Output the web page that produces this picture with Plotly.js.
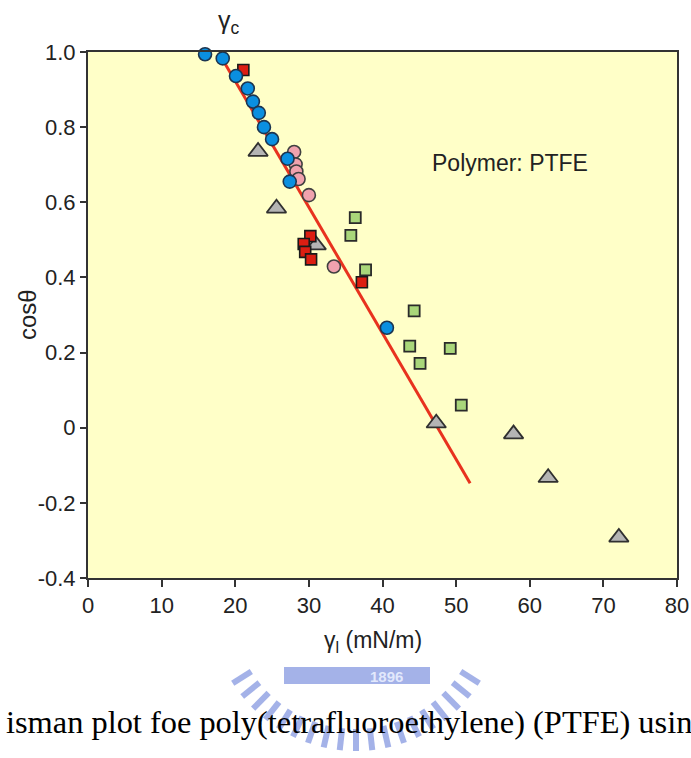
<!DOCTYPE html>
<html>
<head>
<meta charset="utf-8">
<script src="https://cdn.plot.ly/plotly-3.0.1.min.js"></script>
<style>
  html, body { margin: 0; padding: 0; background: #ffffff; }
  #chart { width: 691px; height: 758px; }
</style>
</head>
<body>
<div id="chart"></div>
<script>
// ---- Data (γl in mN/m, cosθ) ----
const blueX  = [15.9, 18.3, 20.1, 21.7, 22.4, 23.2, 23.9, 25.0, 27.1, 27.4, 40.6];
const blueY  = [0.994, 0.983, 0.936, 0.903, 0.868, 0.838, 0.800, 0.768, 0.716, 0.655, 0.266];

const pinkX  = [28.0, 28.2, 28.3, 28.6, 30.0, 33.4];
const pinkY  = [0.734, 0.701, 0.682, 0.662, 0.619, 0.429];

const redX   = [21.1, 30.2, 29.3, 29.5, 30.3, 37.2];
const redY   = [0.952, 0.510, 0.489, 0.468, 0.448, 0.387];

const greenX = [36.3, 35.7, 37.7, 44.3, 43.7, 45.1, 49.2, 50.7];
const greenY = [0.559, 0.512, 0.420, 0.311, 0.217, 0.171, 0.211, 0.060];

const grayX  = [23.1, 25.6, 31.0, 47.3, 57.8, 62.5, 72.1];
const grayY  = [0.735, 0.584, 0.486, 0.012, -0.017, -0.133, -0.292];

const fitX   = [18.2, 51.9];
const fitY   = [0.983, -0.148];

const xTickVals = [0, 10, 20, 30, 40, 50, 60, 70, 80];
const yTickVals = [-0.4, -0.2, 0, 0.2, 0.4, 0.6, 0.8, 1.0];
const yTickText = ['-0.4', '-0.2', '0', '0.2', '0.4', '0.6', '0.8', '1.0'];

// ---- Styling ----
const SANS = 'Arial, "Liberation Sans", sans-serif';
const SERIF = '"Times New Roman", "Liberation Serif", serif';
const TXT = '#222222';

const traces = [
  { x: fitX, y: fitY, mode: 'lines', type: 'scatter',
    line: { color: '#e8321e', width: 3 }, hoverinfo: 'skip', cliponaxis: false },
  { x: grayX, y: grayY, mode: 'markers', type: 'scatter',
    marker: { symbol: 'triangle-up', size: 17, color: '#b4b4b4', line: { color: '#303030', width: 1.8 } } },
  { x: greenX, y: greenY, mode: 'markers', type: 'scatter',
    marker: { symbol: 'square', size: 11, color: '#a9d67a', line: { color: '#2a2a2a', width: 1.8 } } },
  { x: pinkX, y: pinkY, mode: 'markers', type: 'scatter',
    marker: { symbol: 'circle', size: 13, color: '#f0a2ae', line: { color: '#404040', width: 1.6 } } },
  { x: redX, y: redY, mode: 'markers', type: 'scatter',
    marker: { symbol: 'square', size: 11, color: '#dc1e12', line: { color: '#1a1a1a', width: 1.6 } } },
  { x: blueX, y: blueY, mode: 'markers', type: 'scatter', cliponaxis: false,
    marker: { symbol: 'circle', size: 13, color: '#0a8fe0', line: { color: '#1c3550', width: 1.6 } } }
];

// plot area in pixels: left 88, right 677, top 52, bottom 578
const L = 88, R = 677, T = 52, B = 578;
const px = v => (v - L) / (R - L);
const py = v => (B - v) / (B - T);

// watermark emblem (decoration, partially hidden in the reference)
const shapes = [];
const wmColor = 'rgba(125,146,222,0.7)';
const cx = 356, cy = 605;
for (let a = 26; a <= 154; a += 6.4) {
  const r = a * Math.PI / 180;
  const x0 = cx + 124 * Math.cos(r), y0 = cy + 124 * Math.sin(r);
  const x1 = cx + 146 * Math.cos(r), y1 = cy + 146 * Math.sin(r);
  if (Math.min(y0, y1) < 667) continue;
  shapes.push({ type: 'line', xref: 'paper', yref: 'paper',
    x0: px(x0), y0: py(y0), x1: px(x1), y1: py(y1),
    line: { color: wmColor, width: 6 }, layer: 'below' });
}
shapes.push({ type: 'rect', xref: 'paper', yref: 'paper',
  x0: px(284), x1: px(430), y0: py(667), y1: py(684),
  fillcolor: wmColor, line: { width: 0 }, layer: 'below' });

const layout = {
  width: 691, height: 758,
  margin: { l: L, r: 691 - R, t: T, b: 758 - B },
  paper_bgcolor: '#ffffff',
  plot_bgcolor: '#ffffc8',
  showlegend: false,
  font: { family: SANS, color: TXT },
  xaxis: {
    range: [0, 80], tickvals: xTickVals, ticks: 'outside', ticklen: 7, tickwidth: 2, tickcolor: '#333',
    showline: true, linewidth: 2, linecolor: '#333', mirror: true,
    showgrid: false, zeroline: false,
    tickfont: { family: SANS, size: 22, color: TXT }
  },
  yaxis: {
    range: [-0.4, 1.0], tickvals: yTickVals, ticktext: yTickText,
    ticks: 'outside', ticklen: 6, tickwidth: 2, tickcolor: '#333',
    showline: true, linewidth: 2, linecolor: '#333', mirror: true,
    showgrid: false, zeroline: false,
    tickfont: { family: SANS, size: 22, color: TXT }
  },
  shapes: shapes,
  annotations: [
    { xref: 'paper', yref: 'paper', x: px(373), y: py(641), xanchor: 'center', yanchor: 'middle',
      text: 'γ<sub>l</sub> (mN/m)', showarrow: false, font: { family: SANS, size: 23, color: TXT } },
    { xref: 'paper', yref: 'paper', x: px(27), y: 0.5, xanchor: 'center', yanchor: 'middle',
      text: 'cosθ', textangle: -90, showarrow: false, font: { family: SANS, size: 24, color: TXT } },
    { xref: 'paper', yref: 'paper', x: px(229), y: py(22), xanchor: 'center', yanchor: 'middle',
      text: 'γ<sub>c</sub>', showarrow: false, font: { family: SANS, size: 25, color: TXT } },
    { xref: 'x', yref: 'y', x: 46.45, y: 0.705, xanchor: 'left', yanchor: 'middle',
      text: 'Polymer: PTFE', showarrow: false, font: { family: SANS, size: 23, color: TXT } },
    { xref: 'paper', yref: 'paper', x: px(386), y: py(676), xanchor: 'center', yanchor: 'middle',
      text: '<b>1896</b>', showarrow: false, font: { family: SANS, size: 15, color: 'rgba(235,240,255,0.9)' } },
    { xref: 'paper', yref: 'paper', x: px(4), y: py(722), xanchor: 'left', yanchor: 'middle',
      text: 'isman plot foe poly(tetrafluoroethylene) (PTFE) usin', showarrow: false,
      font: { family: SERIF, size: 32.4, color: '#000000' } }
  ]
};

Plotly.newPlot('chart', traces, layout, { displayModeBar: false, staticPlot: true });
</script>
</body>
</html>
